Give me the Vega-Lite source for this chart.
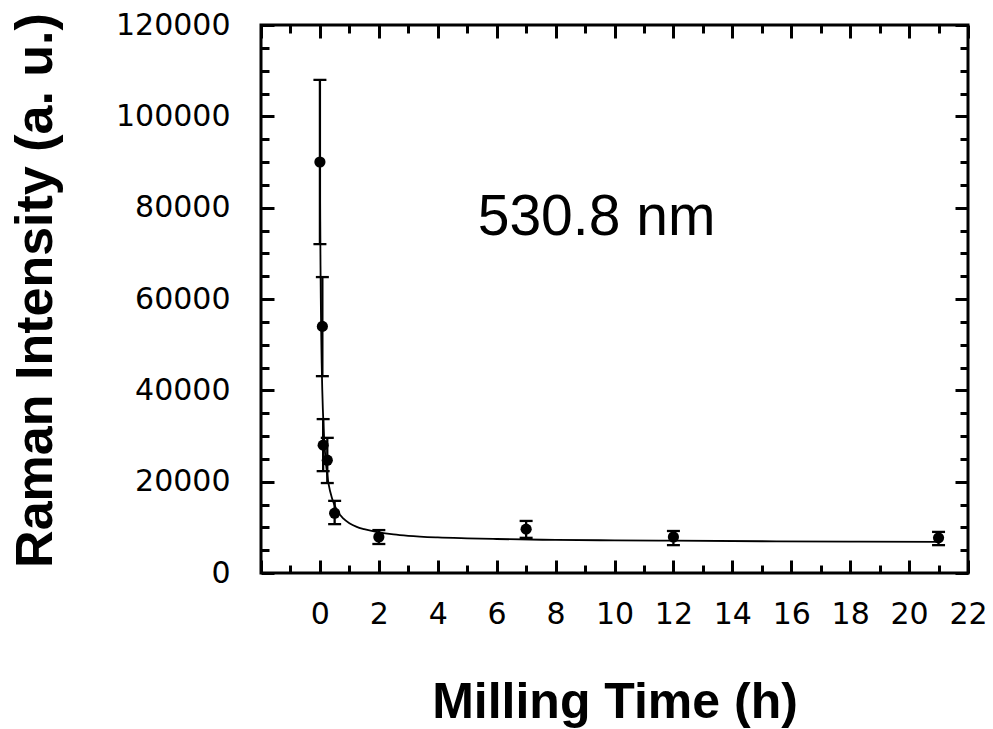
{
  "$schema": "https://vega.github.io/schema/vega-lite/v6.json",
  "width": 707,
  "height": 548,
  "autosize": {"type": "none"},
  "padding": {"left": 261, "top": 25, "right": 25, "bottom": 156},
  "background": "white",
  "config": {
    "view": {"stroke": "black", "strokeWidth": 3},
    "axis": {"grid": false, "domain": false}
  },
  "datasets": {
    "pts": [
      {"t": 0, "intensity": 90000, "lo": 72000, "hi": 108000},
      {"t": 0.083, "intensity": 54000, "lo": 43100, "hi": 64800},
      {"t": 0.11, "intensity": 28000, "lo": 22300, "hi": 33700},
      {"t": 0.25, "intensity": 24700, "lo": 19700, "hi": 29600},
      {"t": 0.5, "intensity": 13100, "lo": 10700, "hi": 15800},
      {"t": 2, "intensity": 7900, "lo": 6350, "hi": 9400},
      {"t": 7, "intensity": 9600, "lo": 7700, "hi": 11400},
      {"t": 12, "intensity": 7900, "lo": 6100, "hi": 9200},
      {"t": 21, "intensity": 7700, "lo": 6100, "hi": 9000}
    ],
    "curve": [
      {"t": 0, "intensity": 90000},
      {"t": 0.01, "intensity": 76900},
      {"t": 0.02, "intensity": 67400},
      {"t": 0.03, "intensity": 60100},
      {"t": 0.04, "intensity": 54400},
      {"t": 0.05, "intensity": 49800},
      {"t": 0.06, "intensity": 46000},
      {"t": 0.08, "intensity": 40100},
      {"t": 0.1, "intensity": 35800},
      {"t": 0.125, "intensity": 31700},
      {"t": 0.15, "intensity": 28700},
      {"t": 0.2, "intensity": 24300},
      {"t": 0.25, "intensity": 21400},
      {"t": 0.3, "intensity": 19300},
      {"t": 0.4, "intensity": 16600},
      {"t": 0.5, "intensity": 14800},
      {"t": 0.6, "intensity": 13500},
      {"t": 0.8, "intensity": 11900},
      {"t": 1.0, "intensity": 10900},
      {"t": 1.25, "intensity": 10100},
      {"t": 1.5, "intensity": 9600},
      {"t": 2, "intensity": 8900},
      {"t": 2.5, "intensity": 8450},
      {"t": 3, "intensity": 8150},
      {"t": 4, "intensity": 7800},
      {"t": 5, "intensity": 7600},
      {"t": 6, "intensity": 7440},
      {"t": 8, "intensity": 7250},
      {"t": 10, "intensity": 7150},
      {"t": 12, "intensity": 7070},
      {"t": 15, "intensity": 6950},
      {"t": 18, "intensity": 6870},
      {"t": 21, "intensity": 6820}
    ],
    "label": [
      {"t": 9.39, "intensity": 74000, "text": "530.8 nm"}
    ]
  },
  "layer": [
    {
      "data": {"name": "curve"},
      "mark": {"type": "line", "color": "black", "strokeWidth": 1.8, "interpolate": "monotone"},
      "encoding": {
        "x": {
          "field": "t", "type": "quantitative",
          "scale": {"domain": [-2, 22], "nice": false, "zero": false},
          "axis": {
            "orient": "bottom", "values": [0, 2, 4, 6, 8, 10, 12, 14, 16, 18, 20, 22],
            "ticks": false, "tickSize": 0, "domain": false, "grid": false,
            "format": "d", "labelFont": "DejaVu Sans", "labelFontSize": 30, "labelColor": "black",
            "labelPadding": 26, "labelBaseline": "top", "labelFlush": false, "labelOverlap": false,
            "title": "Milling Time (h)", "titleFont": "Liberation Sans", "titleFontWeight": "bold",
            "titleFontSize": 50, "titleColor": "black", "titleBaseline": "alphabetic",
            "titleAlign": "center", "titleX": 353.5, "titleY": 144
          }
        },
        "y": {
          "field": "intensity", "type": "quantitative",
          "scale": {"domain": [0, 120000], "nice": false, "zero": false},
          "axis": {
            "orient": "left", "values": [0, 20000, 40000, 60000, 80000, 100000, 120000],
            "ticks": false, "tickSize": 0, "domain": false, "grid": false,
            "format": "d", "labelFont": "DejaVu Sans", "labelFontSize": 30, "labelColor": "black",
            "labelPadding": 31, "labelBaseline": "middle", "labelFlush": false, "labelOverlap": false,
            "title": "Raman Intensity (a. u.)", "titleFont": "Liberation Sans", "titleFontWeight": "bold",
            "titleFontSize": 52, "titleColor": "black", "titleAngle": -90, "titleBaseline": "alphabetic",
            "titleAlign": "center", "titleX": -210, "titleY": 265
          }
        }
      }
    },
    {
      "data": {"name": "pts"},
      "mark": {"type": "rule", "color": "black", "strokeWidth": 2.3},
      "encoding": {
        "x": {
          "field": "t", "type": "quantitative",
          "scale": {"domain": [-2, 22], "nice": false, "zero": false},
          "axis": {
            "orient": "bottom", "offset": -13, "values": [-2, 0, 2, 4, 6, 8, 10, 12, 14, 16, 18, 20, 22],
            "ticks": true, "tickSize": 13, "tickWidth": 3, "tickColor": "black",
            "labels": false, "domain": false, "grid": false, "title": null
          }
        },
        "y": {
          "field": "lo", "type": "quantitative",
          "scale": {"domain": [0, 120000], "nice": false, "zero": false},
          "axis": {
            "orient": "left", "offset": -13, "values": [0, 20000, 40000, 60000, 80000, 100000, 120000],
            "ticks": true, "tickSize": 13, "tickWidth": 3, "tickColor": "black",
            "labels": false, "domain": false, "grid": false, "title": null
          }
        },
        "y2": {"field": "hi"}
      }
    },
    {
      "data": {"name": "pts"},
      "mark": {"type": "tick", "orient": "horizontal", "color": "black", "size": 13, "thickness": 2.3, "opacity": 1},
      "encoding": {
        "x": {
          "field": "t", "type": "quantitative",
          "scale": {"domain": [-2, 22], "nice": false, "zero": false},
          "axis": {
            "orient": "bottom", "offset": -8, "values": [-1, 1, 3, 5, 7, 9, 11, 13, 15, 17, 19, 21],
            "ticks": true, "tickSize": 8, "tickWidth": 3, "tickColor": "black",
            "labels": false, "domain": false, "grid": false, "title": null
          }
        },
        "y": {
          "field": "hi", "type": "quantitative",
          "scale": {"domain": [0, 120000], "nice": false, "zero": false},
          "axis": {
            "orient": "left", "offset": -8,
            "values": [5000, 10000, 15000, 25000, 30000, 35000, 45000, 50000, 55000, 65000, 70000, 75000, 85000, 90000, 95000, 105000, 110000, 115000],
            "ticks": true, "tickSize": 8, "tickWidth": 3, "tickColor": "black",
            "labels": false, "domain": false, "grid": false, "title": null
          }
        }
      }
    },
    {
      "data": {"name": "pts"},
      "mark": {"type": "tick", "orient": "horizontal", "color": "black", "size": 13, "thickness": 2.3, "opacity": 1},
      "encoding": {
        "x": {
          "field": "t", "type": "quantitative",
          "scale": {"domain": [-2, 22], "nice": false, "zero": false},
          "axis": {
            "orient": "top", "offset": -13, "values": [-2, 0, 2, 4, 6, 8, 10, 12, 14, 16, 18, 20, 22],
            "ticks": true, "tickSize": 13, "tickWidth": 3, "tickColor": "black",
            "labels": false, "domain": false, "grid": false, "title": null
          }
        },
        "y": {
          "field": "lo", "type": "quantitative",
          "scale": {"domain": [0, 120000], "nice": false, "zero": false},
          "axis": {
            "orient": "right", "offset": -13, "values": [0, 20000, 40000, 60000, 80000, 100000, 120000],
            "ticks": true, "tickSize": 13, "tickWidth": 3, "tickColor": "black",
            "labels": false, "domain": false, "grid": false, "title": null
          }
        }
      }
    },
    {
      "data": {"name": "pts"},
      "mark": {"type": "point", "shape": "circle", "filled": true, "color": "black", "size": 125, "opacity": 1},
      "encoding": {
        "x": {
          "field": "t", "type": "quantitative",
          "scale": {"domain": [-2, 22], "nice": false, "zero": false},
          "axis": {
            "orient": "top", "offset": -8, "values": [-1, 1, 3, 5, 7, 9, 11, 13, 15, 17, 19, 21],
            "ticks": true, "tickSize": 8, "tickWidth": 3, "tickColor": "black",
            "labels": false, "domain": false, "grid": false, "title": null
          }
        },
        "y": {
          "field": "intensity", "type": "quantitative",
          "scale": {"domain": [0, 120000], "nice": false, "zero": false},
          "axis": {
            "orient": "right", "offset": -8,
            "values": [5000, 10000, 15000, 25000, 30000, 35000, 45000, 50000, 55000, 65000, 70000, 75000, 85000, 90000, 95000, 105000, 110000, 115000],
            "ticks": true, "tickSize": 8, "tickWidth": 3, "tickColor": "black",
            "labels": false, "domain": false, "grid": false, "title": null
          }
        }
      }
    },
    {
      "data": {"name": "label"},
      "mark": {"type": "text", "font": "Liberation Sans", "fontSize": 57, "color": "black", "align": "center", "baseline": "alphabetic"},
      "encoding": {
        "x": {"field": "t", "type": "quantitative", "scale": {"domain": [-2, 22], "nice": false, "zero": false}, "axis": null},
        "y": {"field": "intensity", "type": "quantitative", "scale": {"domain": [0, 120000], "nice": false, "zero": false}, "axis": null},
        "text": {"field": "text"}
      }
    }
  ],
  "resolve": {"axis": {"x": "independent", "y": "independent"}}
}
